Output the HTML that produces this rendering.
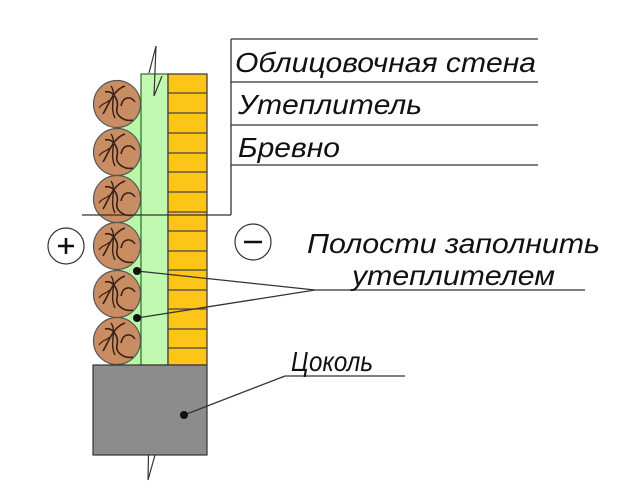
<!DOCTYPE html>
<html><head><meta charset="utf-8"><style>
html,body{margin:0;padding:0;background:#fff;}
svg{display:block;}
text{font-family:"Liberation Sans",sans-serif;font-style:italic;fill:#111;}
</style></head><body>
<svg width="620" height="499" viewBox="0 0 620 499" xmlns="http://www.w3.org/2000/svg">
<defs>
<g id="log">
<circle r="23.5" fill="#c98d64" stroke="#555" stroke-width="1.2"/>
<path d="M-14,10 C-8,0 -4,-14 8,-18" fill="none" stroke="#3a1f14" stroke-width="1.6"/>
<path d="M-12,-12 C-4,-14 2,-4 0,4 C-2,12 8,18 16,16" fill="none" stroke="#3a1f14" stroke-width="1.6"/>
<path d="M-6,-18 C0,-10 -8,2 -2,14" fill="none" stroke="#3a1f14" stroke-width="1.4"/>
<path d="M4,2 C6,-8 14,-8 18,-2" fill="none" stroke="#3a1f14" stroke-width="1.5"/>
<path d="M-18,4 C-14,-2 -10,0 -8,-4" fill="none" stroke="#3a1f14" stroke-width="1.2"/>
</g>
</defs>
<rect x="118" y="104" width="24" height="261" fill="#b8f7a8"/>
<rect x="141" y="74" width="27" height="291" fill="#c2f9b0" stroke="#2e6a2a" stroke-width="1.2"/>
<rect x="168" y="74" width="39" height="291" fill="#fec519" stroke="#333" stroke-width="1.2"/>
<g stroke="#444" stroke-width="1.2">
<line x1="168" y1="93" x2="207" y2="93"/><line x1="168" y1="113" x2="207" y2="113"/>
<line x1="168" y1="133" x2="207" y2="133"/><line x1="168" y1="153" x2="207" y2="153"/>
<line x1="168" y1="172" x2="207" y2="172"/><line x1="168" y1="192" x2="207" y2="192"/>
<line x1="168" y1="212" x2="207" y2="212"/><line x1="168" y1="231" x2="207" y2="231"/>
<line x1="168" y1="251" x2="207" y2="251"/><line x1="168" y1="270" x2="207" y2="270"/>
<line x1="168" y1="290" x2="207" y2="290"/><line x1="168" y1="309" x2="207" y2="309"/>
<line x1="168" y1="329" x2="207" y2="329"/><line x1="168" y1="348" x2="207" y2="348"/>
</g>
<use href="#log" x="117" y="104"/>
<use href="#log" x="117" y="152"/>
<use href="#log" x="117" y="199"/>
<use href="#log" x="117" y="246"/>
<use href="#log" x="117" y="294"/>
<use href="#log" x="117" y="341"/>
<polyline points="149,73 156,46 154,96 162,76" fill="none" stroke="#333" stroke-width="1.2"/>
<polyline points="142,455 149,428 148,480 155,455" fill="none" stroke="#333" stroke-width="1.2"/>
<rect x="93" y="365" width="114" height="90" fill="#8c8c8c" stroke="#333" stroke-width="1.2"/>
<g stroke="#333" stroke-width="1.3">
<line x1="231" y1="39" x2="231" y2="215"/>
<line x1="231" y1="39" x2="538" y2="39"/>
<line x1="231" y1="82" x2="538" y2="82"/>
<line x1="231" y1="125" x2="538" y2="125"/>
<line x1="231" y1="165" x2="538" y2="165"/>
<line x1="82" y1="215" x2="231" y2="215"/>
<line x1="137" y1="271" x2="315" y2="290"/>
<line x1="137" y1="318" x2="315" y2="290"/>
<line x1="315" y1="290" x2="585" y2="290"/>
<line x1="184" y1="415" x2="285" y2="376"/>
<line x1="285" y1="376" x2="405" y2="376"/>
</g>
<circle cx="137" cy="271" r="4" fill="#111"/>
<circle cx="137" cy="318" r="4" fill="#111"/>
<circle cx="184" cy="415" r="4" fill="#111"/>
<text x="235" y="72" font-size="28" textLength="301" lengthAdjust="spacingAndGlyphs">Облицовочная стена</text>
<text x="238" y="114" font-size="28" textLength="184" lengthAdjust="spacingAndGlyphs">Утеплитель</text>
<text x="238" y="157" font-size="28" textLength="102" lengthAdjust="spacingAndGlyphs">Бревно</text>
<text x="307" y="253" font-size="28" textLength="293" lengthAdjust="spacingAndGlyphs">Полости заполнить</text>
<text x="352" y="285" font-size="28" textLength="203" lengthAdjust="spacingAndGlyphs">утеплителем</text>
<text x="291" y="371" font-size="28" textLength="82" lengthAdjust="spacingAndGlyphs">Цоколь</text>
<circle cx="66" cy="246" r="18" fill="#fff" stroke="#333" stroke-width="1.2"/>
<path d="M58,246 H74 M66,238 V254" stroke="#111" stroke-width="2.6"/>
<circle cx="253" cy="242" r="18" fill="#fff" stroke="#333" stroke-width="1.2"/>
<path d="M244,242 H262" stroke="#111" stroke-width="2.6"/>
</svg>
</body></html>
